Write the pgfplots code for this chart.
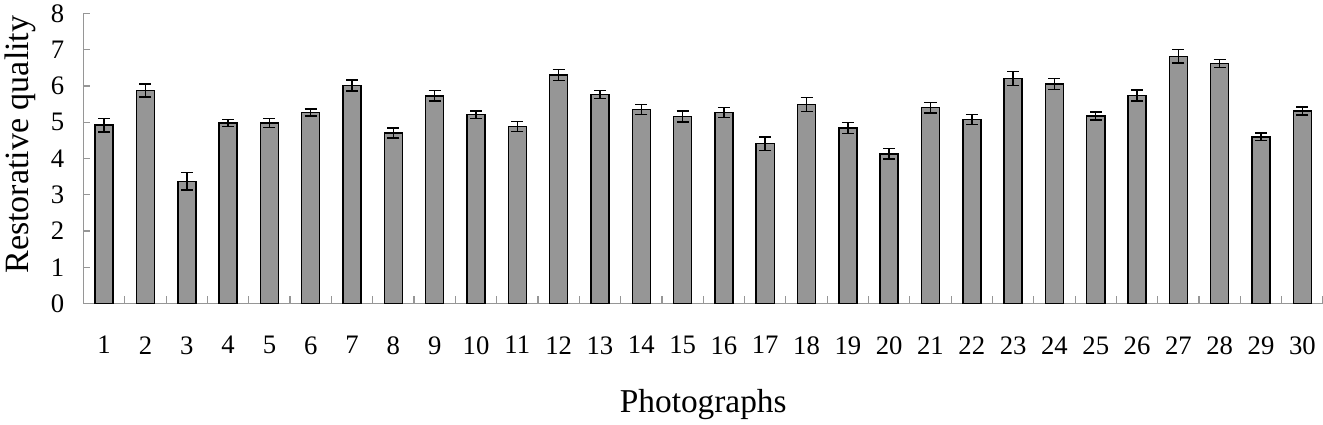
\documentclass[border=0pt]{standalone}
\usepackage{pgfplots}
\usepackage{pgfplotstable}
\pgfplotsset{compat=1.18}
\usepackage{fontspec}
\setmainfont{Liberation Serif}
\definecolor{barfill}{RGB}{150,150,150}
\definecolor{axgray}{RGB}{150,150,150}

% photograph, mean, error
\pgfplotstableread{
x  y     e
1  4.92  0.19
2  5.88  0.18
3  3.37  0.24
4  4.98  0.10
5  4.98  0.13
6  5.27  0.10
7  6.01  0.15
8  4.70  0.14
9  5.73  0.15
10 5.21  0.10
11 4.88  0.14
12 6.30  0.15
13 5.77  0.11
14 5.35  0.14
15 5.16  0.15
16 5.27  0.14
17 4.41  0.19
18 5.49  0.19
19 4.84  0.15
20 4.13  0.14
21 5.40  0.14
22 5.08  0.14
23 6.21  0.19
24 6.06  0.15
25 5.17  0.11
26 5.74  0.15
27 6.82  0.19
28 6.62  0.11
29 4.60  0.11
30 5.31  0.11
}\restq

\begin{document}
\begin{tikzpicture}[trim axis right]
\begin{axis}[
  scale only axis,
  width=929pt, height=217.5pt,
  xmin=0.5, xmax=30.5, ymin=0, ymax=8,
  axis x line*=bottom, axis y line*=left,
  axis line style={axgray, line width=0.9pt, -},
  tick align=inside,
  xtick={1,...,30},
  minor xtick={0.5,1.5,...,30.5},
  ytick={0,1,...,8},
  major x tick style={draw=none},
  tick style={axgray, line width=0.9pt},
  major tick length=5pt,
  minor tick length=6pt,
  /pgf/number format/assume math mode=true,
  tick label style={font=\fontsize{20}{22}\selectfont},
  xticklabel style={yshift=-21pt},
  yticklabel style={xshift=-11pt},
  ylabel={Restorative quality},
  xlabel={Photographs},
  label style={font=\fontsize{25}{28}\selectfont},
  ylabel style={at={(axis description cs:-0.035,0.548)}, anchor=south, rotate=0, font=\fontsize{25.5}{28}\selectfont},
  xlabel style={at={(axis description cs:0.5,0)}, anchor=north, yshift=-61pt},
]
\addplot[
  ybar, bar width=13.5pt,
  fill=barfill, draw=black, line width=1.1pt,
  error bars/.cd, y dir=both, y explicit,
  error bar style={black, line width=1.1pt},
  error mark options={rotate=90, mark size=4.5pt, line width=1.1pt, black},
] table[x=x, y=y, y error=e] {\restq};
\end{axis}
\end{tikzpicture}
\end{document}
